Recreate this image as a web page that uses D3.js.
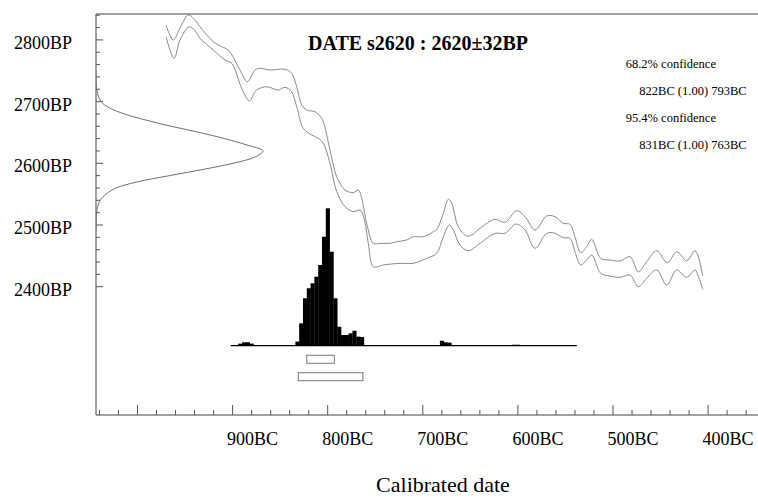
<!DOCTYPE html>
<html lang="en">
  <head>
    <meta charset="UTF-8" />
    <title>radiocarbon calibration s2620</title>
    <style>
      body {
        margin: 0;
        background: #fff;
      }
      svg {
        display: block;
      }
      text {
        font-family: "Liberation Serif", "DejaVu Serif", serif;
      }
      .frame {
        fill: none;
        stroke: #444;
        stroke-width: 1;
      }
      .tick {
        stroke: #555;
        stroke-width: 1;
      }
      .cal-curve {
        fill: none;
        stroke: #8a8a8a;
        stroke-width: 1;
      }
      .likelihood {
        fill: none;
        stroke: #707070;
        stroke-width: 1;
      }
      .hist {
        fill: #000;
      }
      .range-box {
        fill: #fff;
        stroke: #777;
        stroke-width: 1;
      }
    </style>
  </head>
  <body>
    <script src="https://cdn.jsdelivr.net/npm/d3@7"></script>
    <script>
      // tick labels
      const bpLabels = [2800, 2700, 2600, 2500, 2400];
      const bcLabels = [900, 800, 700, 600, 500, 400];

      const titleText = "DATE s2620 : 2620\u00b132BP";
      const rangeLines = ["68.2% confidence", "822BC (1.00) 793BC", "95.4% confidence", "831BC (1.00) 763BC"];
      const range68 = [822, 793];
      const range95 = [831, 763];

      const likeBP = [2750, 2720, 2700, 2690, 2680, 2670, 2660, 2650, 2640, 2630, 2620, 2610, 2600, 2590, 2580, 2570, 2560, 2550, 2540, 2530, 2520, 2490];
      const likeProb = [0, 0.004, 0.03, 0.08, 0.17, 0.3, 0.45, 0.62, 0.77, 0.9, 1, 0.95, 0.82, 0.64, 0.44, 0.25, 0.12, 0.06, 0.025, 0.01, 0.004, 0];

      // calibrated distribution, 4 year bins (bin start, years BC)
      const histYears = [894, 890, 886, 882, 834, 830, 826, 822, 818, 814, 810, 806, 802, 798, 794, 790, 786, 782, 778, 774, 770, 766, 682, 678, 674, 606, 602];
      const histProb = [0.015, 0.025, 0.025, 0.015, 0.03, 0.163, 0.345, 0.418, 0.454, 0.502, 0.587, 0.793, 1, 0.684, 0.345, 0.138, 0.078, 0.078, 0.09, 0.109, 0.066, 0.063, 0.036, 0.025, 0.022, 0.007, 0.007];
      const histExtent = [902, 538];
      const histBin = 4;

      // calibration curve, upper and lower 1 sigma lines
      const upperYears = [970, 962.4, 955.3, 946.6, 940.6, 934.3, 920.3, 911.5, 904.5, 892.2, 884.5, 876.4, 871.2, 860.7, 844.9, 837.9, 832.6, 827.3, 822.1, 813.4, 808.1, 804.6, 797.6, 790.5, 781.8, 773.1, 767.8, 764.2, 759, 752, 745, 734.5, 727.4, 716.9, 710, 699.5, 689, 685.1, 678.4, 673.2, 669.6, 662.7, 653.8, 648.6, 639.9, 624.1, 613.6, 601.3, 592.5, 582, 569.7, 561, 552.3, 545.2, 540, 534, 527.7, 522.4, 512.9, 503.2, 492.6, 482.1, 473.4, 464.6, 454, 442.9, 433, 422.5, 413.8, 410.3, 405.7];
      const upperBP = [2824, 2799.8, 2819.3, 2840.4, 2833.9, 2821.4, 2797.1, 2789, 2783.6, 2751.2, 2732.3, 2751.2, 2754, 2751.2, 2752.4, 2745.9, 2724.1, 2694.5, 2686.4, 2683.6, 2676.7, 2667.4, 2621.6, 2578.3, 2556.7, 2552.4, 2556.7, 2543.3, 2502.8, 2470.3, 2470.3, 2470.3, 2472.9, 2475.7, 2481, 2481, 2489.1, 2493.5, 2519, 2541.7, 2535.2, 2497.2, 2482.2, 2483.8, 2494.7, 2509.2, 2504.4, 2523.2, 2513.5, 2491.9, 2514.6, 2513.5, 2502.8, 2501.1, 2481, 2455.1, 2464.8, 2476.8, 2446, 2443.3, 2441.7, 2448.6, 2424.3, 2440.5, 2458.3, 2438.9, 2456.7, 2442.1, 2458.3, 2448.6, 2417.3];
      const lowerYears = [970, 961.6, 955.3, 945.5, 939.5, 934.3, 920.3, 908, 900.9, 890.4, 882.4, 874.7, 864.1, 851.9, 844.9, 837.9, 832.6, 825.7, 816.8, 809.9, 804.6, 797.6, 790.5, 781.8, 773.1, 766, 761.8, 757.3, 752, 741.5, 724, 710, 695.9, 685.4, 678.4, 672.1, 667.9, 660.9, 652.2, 639.9, 624.1, 613.6, 602, 592.5, 582, 569.7, 561, 552.3, 545.2, 540, 534, 527.7, 522.4, 512.9, 503.2, 492.6, 482.1, 473.4, 464.6, 454, 443.5, 433, 422.5, 413.8, 410.3, 405.7];
      const lowerBP = [2805.2, 2770.2, 2799.8, 2821.4, 2814.4, 2802.6, 2783.6, 2767.4, 2762.1, 2721.6, 2701.5, 2718.8, 2724.1, 2718.8, 2723.2, 2716, 2691.7, 2656.7, 2645.9, 2640.5, 2632.4, 2600, 2554, 2529.7, 2521.6, 2524.3, 2510.9, 2470.3, 2432.4, 2435.2, 2437.9, 2437.9, 2446, 2454.1, 2481, 2500, 2491.9, 2467.6, 2458.3, 2470.3, 2486.5, 2486.5, 2501.6, 2491.9, 2462.2, 2486.5, 2486.5, 2479.4, 2478.4, 2456.7, 2435.2, 2443.3, 2451.4, 2421.7, 2417.3, 2415.2, 2419, 2400, 2413.6, 2427.1, 2402.8, 2427.1, 2415.2, 2427.1, 2417.3, 2395.8];

      const width = 758;
      const height = 498;
      const frameLeft = 96; // plot frame
      const frameTop = 14;
      const frameBottom = 415;
      const histBase = 345.7; // baseline of the calibrated histogram

      const svg = d3.select("body").append("svg")
        .attr("width", width)
        .attr("height", height)
        .attr("font-family", "Liberation Serif, DejaVu Serif, serif");

      const x = d3.scaleLinear().domain([800, 400]).range([327.7, 708.1]);
      const y = d3.scaleLinear().domain([2600, 2800]).range([163.3, 39.9]);
      const likeW = d3.scaleLinear().domain([0, 1]).range([0, 167]);
      const histH = d3.scaleLinear().domain([0, 1]).range([0, 137.4]);

      svg.append("clipPath").attr("id", "plot-clip")
        .append("rect")
        .attr("x", frameLeft)
        .attr("y", frameTop)
        .attr("width", width - frameLeft)
        .attr("height", frameBottom - frameTop);

      // frame (right edge runs off the page)
      svg.append("path")
        .attr("class", "frame")
        .attr("d", `M${width + 5},${frameTop}H${frameLeft}V${frameBottom}H${width + 5}`);

      // x ticks, every 20 years, long ones on the centuries
      const xTicks = d3.range(340, 1041, 20).filter(t => x(t) > frameLeft + 1 && x(t) < width);
      svg.append("g").selectAll("line")
        .data(xTicks)
        .enter()
        .append("line")
        .attr("class", "tick")
        .attr("x1", d => x(d))
        .attr("x2", d => x(d))
        .attr("y1", frameBottom)
        .attr("y2", d => frameBottom - (d % 100 === 0 ? 10 : 5));

      const yTicks = d3.range(2400, 2841, 20);
      svg.append("g").selectAll("line")
        .data(yTicks)
        .enter()
        .append("line")
        .attr("class", "tick")
        .attr("x1", frameLeft)
        .attr("x2", d => frameLeft + (d % 100 === 0 ? 7 : 4))
        .attr("y1", d => y(d))
        .attr("y2", d => y(d));

      svg.append("g")
        .attr("font-size", 18)
        .attr("text-anchor", "middle")
        .selectAll("text")
        .data(bcLabels)
        .enter()
        .append("text")
        .attr("x", d => x(d) + 20)
        .attr("y", 445)
        .text(d => d + "BC");

      svg.append("g")
        .attr("font-size", 18)
        .attr("text-anchor", "end")
        .selectAll("text")
        .data(bpLabels)
        .enter()
        .append("text")
        .attr("x", 72)
        .attr("y", d => y(d) + 9)
        .text(d => d + "BP");

      svg.append("text")
        .attr("x", 443)
        .attr("y", 492)
        .attr("font-size", 22)
        .attr("text-anchor", "middle")
        .text("Calibrated date");

      svg.append("text")
        .attr("x", 308)
        .attr("y", 50)
        .attr("font-size", 20)
        .attr("font-weight", "bold")
        .text(titleText);

      svg.append("g")
        .attr("font-size", 12.5)
        .selectAll("text")
        .data(rangeLines)
        .enter()
        .append("text")
        .attr("x", (d, i) => (i % 2 ? 639.3 : 625.7))
        .attr("y", (d, i) => 68 + i * 27)
        .text(d => d);

      const plot = svg.append("g").attr("clip-path", "url(#plot-clip)");

      // likelihood of the measurement, hanging off the BP axis
      const likeLine = d3.line()
        .x(d => frameLeft + likeW(d[1]))
        .y(d => y(d[0]))
        .curve(d3.curveCatmullRom.alpha(0.5));
      plot.append("path")
        .attr("class", "likelihood")
        .attr("d", likeLine(d3.zip(likeBP, likeProb)));

      const calLine = d3.line()
        .x(d => x(d[0]))
        .y(d => y(d[1]))
        .curve(d3.curveCatmullRom.alpha(0.5));
      plot.append("path").attr("class", "cal-curve").attr("d", calLine(d3.zip(upperYears, upperBP)));
      plot.append("path").attr("class", "cal-curve").attr("d", calLine(d3.zip(lowerYears, lowerBP)));

      plot.append("line")
        .attr("x1", x(histExtent[0]))
        .attr("x2", x(histExtent[1]))
        .attr("y1", histBase)
        .attr("y2", histBase)
        .attr("stroke", "#000")
        .attr("stroke-width", 1.3);

      plot.append("g").selectAll("rect")
        .data(d3.zip(histYears, histProb))
        .enter()
        .append("rect")
        .attr("class", "hist")
        .attr("x", d => x(d[0]))
        .attr("width", d => x(d[0] - histBin) - x(d[0]) + 0.3)
        .attr("y", d => histBase - histH(d[1]))
        .attr("height", d => histH(d[1]));

      // 68.2% and 95.4% ranges
      plot.append("g").selectAll("rect")
        .data([range68, range95])
        .enter()
        .append("rect")
        .attr("class", "range-box")
        .attr("x", d => x(d[0]))
        .attr("width", d => x(d[1]) - x(d[0]))
        .attr("y", (d, i) => 355.3 + i * 17.4)
        .attr("height", 8);
    </script>
  </body>
</html>
